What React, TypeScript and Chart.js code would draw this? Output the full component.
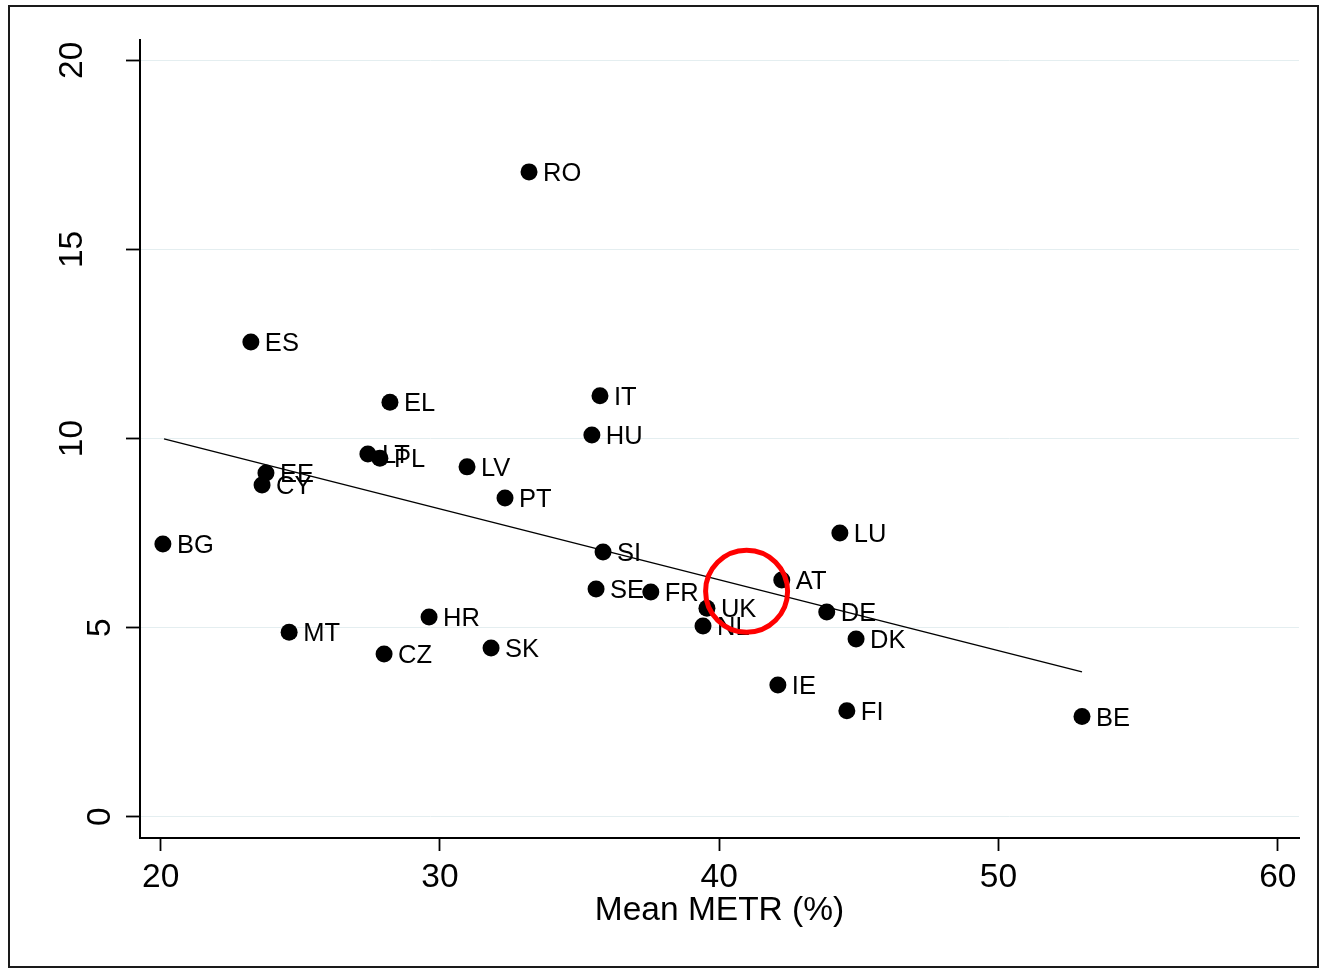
import React, { useEffect, useRef } from "react";
import { Chart, registerables } from "chart.js";

Chart.register(...registerables);

const countries = ["RO", "ES", "EL", "IT", "HU", "LT", "PL", "LV", "EE", "CY", "PT", "BG", "SI", "LU", "AT", "SE", "FR", "UK", "DE", "NL", "DK", "HR", "MT", "CZ", "SK", "IE", "FI", "BE"];
const meanMETR = [33.19, 23.23, 28.21, 35.73, 35.44, 27.42, 27.85, 30.97, 23.77, 23.63, 32.33, 20.08, 35.84, 44.32, 42.24, 35.59, 37.55, 39.56, 43.85, 39.42, 44.9, 29.61, 24.6, 28.0, 31.83, 42.1, 44.57, 52.99];
const yValues = [17.05, 12.55, 10.96, 11.13, 10.09, 9.59, 9.48, 9.25, 9.09, 8.77, 8.43, 7.21, 7.0, 7.5, 6.26, 6.02, 5.94, 5.51, 5.41, 5.04, 4.7, 5.28, 4.88, 4.3, 4.46, 3.48, 2.8, 2.65];
const fitX = [20.12, 52.99];
const fitY = [9.99, 3.83];
const highlightX = [40.98];
const highlightY = [5.96];
const xTicks = [20, 30, 40, 50, 60];
const yTicks = [0, 5, 10, 15, 20];
const xTitle = "Mean METR (%)";

const FONT = "'Liberation Sans', Arial, Helvetica, sans-serif";

export default function App() {
  const ref = useRef<HTMLCanvasElement | null>(null);

  useEffect(() => {
    if (!ref.current) return;

    const bgPlugin = {
      id: "bg",
      beforeDraw(chart: any) {
        const ctx = chart.ctx;
        ctx.save();
        ctx.fillStyle = "#ffffff";
        ctx.fillRect(0, 0, chart.width, chart.height);
        ctx.restore();
      },
      afterDraw(chart: any) {
        const ctx = chart.ctx;
        ctx.save();
        ctx.strokeStyle = "#1a1a1a";
        ctx.lineWidth = 2;
        ctx.strokeRect(9, 6, 1309, 961);
        // rotated y tick labels
        const ys = chart.scales.y;
        ctx.fillStyle = "#000";
        ctx.font = `33.5px ${FONT}`;
        ctx.textAlign = "center";
        ctx.textBaseline = "middle";
        yTicks.forEach((v) => {
          const label = String(v);
          const py = ys.getPixelForValue(v);
          const cx = chart.chartArea.left - 39 - (label.length - 1) * 28;
          ctx.save();
          ctx.translate(cx, py);
          ctx.rotate(-Math.PI / 2);
          ctx.fillText(label, 0, 0);
          ctx.restore();
        });
        ctx.restore();
      },
    };

    const labelPlugin = {
      id: "pointLabels",
      afterDatasetDraw(chart: any, args: any) {
        if (args.index !== 1) return;
        const ctx = chart.ctx;
        const meta = chart.getDatasetMeta(1);
        ctx.save();
        ctx.fillStyle = "#000";
        ctx.font = `25.5px ${FONT}`;
        ctx.textAlign = "left";
        ctx.textBaseline = "middle";
        meta.data.forEach((el: any, i: number) => {
          ctx.fillText(countries[i], el.x + 14, el.y + 2);
        });
        ctx.restore();
      },
    };

    const chart = new Chart(ref.current, {
      type: "scatter",
      data: {
        datasets: [
          {
            label: "highlight",
            data: highlightX.map((x, i) => ({ x, y: highlightY[i] })),
            backgroundColor: "rgba(0,0,0,0)",
            borderColor: "#ff0000",
            borderWidth: 5,
            pointRadius: 41,
            pointHoverRadius: 41,
          },
          {
            label: "countries",
            data: meanMETR.map((x, i) => ({ x, y: yValues[i] })),
            backgroundColor: "#000",
            borderColor: "#000",
            borderWidth: 0,
            pointRadius: 8.5,
            pointHoverRadius: 8.5,
          },
          {
            type: "line",
            label: "fit",
            data: fitX.map((x, i) => ({ x, y: fitY[i] })),
            borderColor: "#000",
            borderWidth: 1.5,
            pointRadius: 0,
            fill: false,
            showLine: true,
          } as any,
        ],
      },
      options: {
        animation: false,
        responsive: false,
        events: [],
        layout: { autoPadding: false, padding: { left: 0, top: 40, right: 21, bottom: 0 } },
        plugins: {
          legend: { display: false },
          tooltip: { enabled: false },
        },
        scales: {
          x: {
            type: "linear",
            min: 19.26,
            max: 60.76,
            afterBuildTicks: (scale: any) => {
              scale.ticks = xTicks.map((v) => ({ value: v }));
            },
            afterFit: (scale: any) => {
              scale.height = 131;
              scale.paddingLeft = 0;
              scale.paddingRight = 0;
            },
            ticks: {
              color: "#000",
              font: { family: FONT, size: 33.5 },
              padding: 7,
              maxRotation: 0,
              autoSkip: false,
            },
            grid: {
              drawOnChartArea: false,
              tickLength: 13,
              tickColor: "#000",
              tickWidth: 1.8,
            },
            border: { color: "#000", width: 2 },
            title: {
              display: true,
              text: xTitle,
              color: "#000",
              font: { family: FONT, size: 33.5 },
              padding: { top: 0, bottom: 38 },
            },
          },
          y: {
            type: "linear",
            min: -0.563,
            max: 20.537,
            afterBuildTicks: (scale: any) => {
              scale.ticks = yTicks.map((v) => ({ value: v }));
            },
            afterFit: (scale: any) => {
              scale.width = 140;
              scale.paddingTop = 0;
              scale.paddingBottom = 0;
            },
            ticks: { display: false },
            grid: {
              color: "#e4eef0",
              lineWidth: 1,
              tickLength: 14,
              tickColor: "#000",
              tickWidth: 1.8,
            },
            border: { color: "#000", width: 2 },
          },
        },
      },
      plugins: [bgPlugin, labelPlugin],
    } as any);

    return () => chart.destroy();
  }, []);

  return (
    <div style={{ position: "fixed", left: 0, top: 0, width: 1320, height: 969, background: "#fff" }}>
      <canvas ref={ref} width={1320} height={969} style={{ display: "block", width: 1320, height: 969 }} />
    </div>
  );
}
